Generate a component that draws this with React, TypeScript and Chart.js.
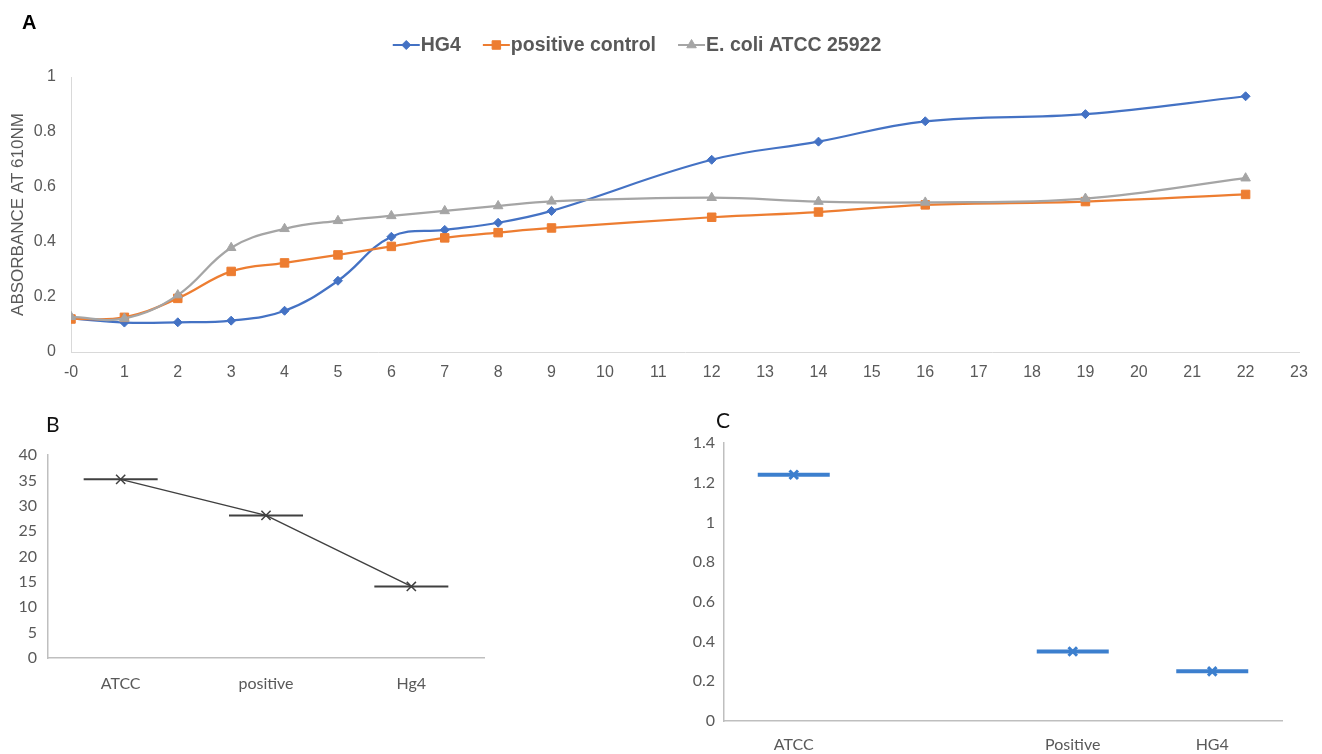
import React, { useEffect, useRef } from 'react';
import { Chart, registerables } from 'chart.js';

Chart.register(...registerables);

// ---------- Panel A data ----------
const timeHours = [0, 1, 2, 3, 4, 5, 6, 7, 8, 9, 12, 14, 16, 19, 22];
const hg4Values = [0.122, 0.107, 0.108, 0.114, 0.15, 0.259, 0.419, 0.444, 0.47, 0.513, 0.699, 0.765, 0.839, 0.865, 0.93];
const positiveControlValues = [0.12, 0.126, 0.195, 0.293, 0.324, 0.353, 0.384, 0.415, 0.434, 0.451, 0.49, 0.509, 0.535, 0.547, 0.573];
const ecoliValues = [0.128, 0.122, 0.207, 0.379, 0.448, 0.477, 0.495, 0.513, 0.531, 0.548, 0.561, 0.547, 0.544, 0.558, 0.632];
const seriesNames = ['HG4', 'positive control', 'E. coli ATCC 25922'];
const yTitleA = 'ABSORBANCE AT 610NM';

// ---------- Panel B data ----------
const panelBCategories = ['ATCC', 'positive', 'Hg4'];
const panelBValues = [35.2, 28.1, 14.1];

// ---------- Panel C data ----------
const panelCCategories = ['ATCC', '', 'Positive', 'HG4'];
const panelCValues: (number | null)[] = [1.24, null, 0.35, 0.25];

const FONT_A = '"Liberation Sans", Arial, sans-serif';
const FONT_BC = 'Lato, "Open Sans", sans-serif';
const TEXT_GRAY = '#595959';

const fmt = (v: any) => String(parseFloat(Number(v).toFixed(2)));

function drawMarker(ctx: CanvasRenderingContext2D, style: string, x: number, y: number, r: number, color: string) {
  ctx.save();
  ctx.fillStyle = color;
  ctx.strokeStyle = color;
  ctx.lineWidth = 1;
  ctx.beginPath();
  if (style === 'rectRot') {
    ctx.moveTo(x, y - r);
    ctx.lineTo(x + r, y);
    ctx.lineTo(x, y + r);
    ctx.lineTo(x - r, y);
    ctx.closePath();
  } else if (style === 'rect') {
    const h = r * Math.SQRT1_2;
    ctx.rect(x - h, y - h, 2 * h, 2 * h);
  } else if (style === 'triangle') {
    let a = 0;
    ctx.moveTo(x + Math.sin(a) * r, y - Math.cos(a) * r);
    a += (2 * Math.PI) / 3;
    ctx.lineTo(x + Math.sin(a) * r, y - Math.cos(a) * r);
    a += (2 * Math.PI) / 3;
    ctx.lineTo(x + Math.sin(a) * r, y - Math.cos(a) * r);
    ctx.closePath();
  }
  ctx.fill();
  ctx.stroke();
  ctx.restore();
}

const legendPluginA = {
  id: 'excelLegend',
  afterDraw(chart: any) {
    const ctx: CanvasRenderingContext2D = chart.ctx;
    const centerX = 637;
    const centerY = 45;
    const lineLen = 27;
    const textGap = 1;
    const itemGap = 22;
    ctx.save();
    ctx.font = `bold 19.5px ${FONT_A}`;
    ctx.textBaseline = 'middle';
    const items = chart.data.datasets.map((ds: any) => ({
      text: ds.label as string,
      color: ds.borderColor as string,
      style: ds.pointStyle as string,
      r: ds.pointRadius as number,
    }));
    const widths = items.map((it: any) => lineLen + textGap + ctx.measureText(it.text).width);
    const total = widths.reduce((a: number, b: number) => a + b, 0) + itemGap * (items.length - 1);
    let x = centerX - total / 2;
    items.forEach((it: any, i: number) => {
      ctx.strokeStyle = it.color;
      ctx.lineWidth = 2;
      ctx.beginPath();
      ctx.moveTo(x, centerY);
      ctx.lineTo(x + lineLen, centerY);
      ctx.stroke();
      drawMarker(ctx, it.style, x + lineLen / 2, centerY, it.r, it.color);
      ctx.fillStyle = TEXT_GRAY;
      ctx.fillText(it.text, x + lineLen + textGap, centerY + 1);
      x += widths[i] + itemGap;
    });
    ctx.restore();
  },
};

export default function App() {
  const refA = useRef<HTMLCanvasElement>(null);
  const refB = useRef<HTMLCanvasElement>(null);
  const refC = useRef<HTMLCanvasElement>(null);

  useEffect(() => {
    const charts: Chart[] = [];

    // ---------- Panel A ----------
    const toXY = (vals: number[]) => timeHours.map((t, i) => ({ x: t, y: vals[i] }));
    const seriesA = [
      { values: hg4Values, color: '#4472C4', style: 'rectRot', r: 4.5, order: 2 },
      { values: positiveControlValues, color: '#ED7D31', style: 'rect', r: 6, order: 1 },
      { values: ecoliValues, color: '#A5A5A5', style: 'triangle', r: 5.5, order: 0 },
    ];
    charts.push(
      new Chart(refA.current!, {
        type: 'line',
        data: {
          datasets: seriesA.map((s, i) => ({
            label: seriesNames[i],
            data: toXY(s.values),
            borderColor: s.color,
            backgroundColor: s.color,
            borderWidth: 2.25,
            pointStyle: s.style,
            pointRadius: s.r,
            pointBorderWidth: 1,
            pointBackgroundColor: s.color,
            pointBorderColor: s.color,
            tension: 0.4,
            order: s.order,
          })) as any,
        },
        options: {
          responsive: false,
          animation: false,
          devicePixelRatio: 1,
          layout: { autoPadding: false, padding: { top: 77, right: 23, left: 0, bottom: 0 } },
          plugins: { legend: { display: false }, tooltip: { enabled: false } },
          scales: {
            x: {
              type: 'linear',
              min: 0,
              max: 23,
              grid: { display: false, drawTicks: false },
              border: { display: true, color: '#d9d9d9', width: 1 },
              ticks: {
                stepSize: 1,
                autoSkip: false,
                maxRotation: 0,
                padding: 11,
                color: TEXT_GRAY,
                font: { family: FONT_A, size: 16 },
                callback: (v: any) => (v === 0 ? '-0' : String(v)),
              },
              afterFit: (scale: any) => {
                scale.height = 48;
              },
            },
            y: {
              min: 0,
              max: 1,
              grid: { display: false, drawTicks: false },
              border: { display: true, color: '#d9d9d9', width: 1 },
              ticks: { stepSize: 0.2, padding: 15, color: TEXT_GRAY, font: { family: FONT_A, size: 16 }, callback: fmt },
              title: {
                display: true,
                text: yTitleA,
                color: TEXT_GRAY,
                font: { family: FONT_A, size: 17 },
                padding: { top: 8, bottom: 0 },
              },
              afterFit: (scale: any) => {
                scale.width = 71;
              },
            },
          },
        } as any,
        plugins: [legendPluginA],
      })
    );

    // ---------- Panel B ----------
    const darkGray = '#404040';
    charts.push(
      new Chart(refB.current!, {
        type: 'line',
        data: {
          labels: panelBCategories,
          datasets: [
            {
              label: 'values',
              data: panelBValues,
              borderColor: darkGray,
              borderWidth: 1.5,
              pointStyle: 'crossRot',
              pointRadius: 6.5,
              pointBorderWidth: 1.5,
              pointBorderColor: darkGray,
              tension: 0,
            },
            {
              label: 'range',
              data: panelBValues,
              showLine: false,
              pointStyle: 'line',
              pointRadius: 37,
              pointBorderWidth: 2,
              pointBorderColor: darkGray,
            },
          ] as any,
        },
        options: {
          responsive: false,
          animation: false,
          devicePixelRatio: 1,
          layout: { autoPadding: false, padding: { top: 55, right: 16, left: 0, bottom: 0 } },
          plugins: { legend: { display: false }, tooltip: { enabled: false } },
          scales: {
            x: {
              type: 'category',
              offset: true,
              grid: { display: false, drawTicks: false },
              border: { display: true, color: '#bfbfbf', width: 1.5 },
              ticks: { padding: 16, color: TEXT_GRAY, font: { family: FONT_BC, size: 16 } },
              afterFit: (scale: any) => {
                scale.height = 96;
              },
            },
            y: {
              min: 0,
              max: 40,
              grid: { display: false, drawTicks: false },
              border: { display: true, color: '#bfbfbf', width: 1.5 },
              ticks: { stepSize: 5, padding: 11, color: TEXT_GRAY, font: { family: FONT_BC, size: 16 }, callback: fmt },
              afterFit: (scale: any) => {
                scale.width = 48;
              },
            },
          },
        } as any,
      })
    );

    // ---------- Panel C ----------
    const blue = '#3c7fce';
    charts.push(
      new Chart(refC.current!, {
        type: 'line',
        data: {
          labels: panelCCategories,
          datasets: [
            {
              label: 'mean',
              data: panelCValues,
              showLine: false,
              pointStyle: 'crossRot',
              pointRadius: 6,
              pointBorderWidth: 3,
              pointBorderColor: blue,
            },
            {
              label: 'range',
              data: panelCValues,
              showLine: false,
              pointStyle: 'line',
              pointRadius: 36,
              pointBorderWidth: 4,
              pointBorderColor: blue,
            },
          ] as any,
        },
        options: {
          responsive: false,
          animation: false,
          devicePixelRatio: 1,
          layout: { autoPadding: false, padding: { top: 43, right: 40, left: 0, bottom: 0 } },
          plugins: { legend: { display: false }, tooltip: { enabled: false } },
          scales: {
            x: {
              type: 'category',
              offset: true,
              grid: { display: false, drawTicks: false },
              border: { display: true, color: '#bfbfbf', width: 1.5 },
              ticks: { padding: 14, color: TEXT_GRAY, font: { family: FONT_BC, size: 16 } },
              afterFit: (scale: any) => {
                scale.height = 33;
              },
            },
            y: {
              min: 0,
              max: 1.4,
              grid: { display: false, drawTicks: false },
              border: { display: true, color: '#bfbfbf', width: 1.5 },
              ticks: { stepSize: 0.2, padding: 9, color: TEXT_GRAY, font: { family: FONT_BC, size: 16 }, callback: fmt },
              afterFit: (scale: any) => {
                scale.width = 44;
              },
            },
          },
        } as any,
      })
    );

    return () => charts.forEach((c) => c.destroy());
  }, []);

  const letterBC: React.CSSProperties = {
    position: 'absolute',
    font: `21px ${FONT_BC}`,
    lineHeight: '21px',
    color: '#111',
  };

  return (
    <div style={{ position: 'fixed', left: 0, top: 0, width: 1322, height: 754, background: '#fff', overflow: 'hidden' }}>
      <canvas ref={refA} width={1322} height={400} style={{ position: 'absolute', left: 0, top: 0 }} />
      <canvas ref={refB} width={500} height={354} style={{ position: 'absolute', left: 0, top: 400 }} />
      <canvas ref={refC} width={642} height={354} style={{ position: 'absolute', left: 680, top: 400 }} />
      <div style={{ position: 'absolute', left: 22, top: 12, font: `bold 20px ${FONT_A}`, lineHeight: '20px', color: '#000' }}>A</div>
      <div style={{ ...letterBC, left: 46, top: 413 }}>B</div>
      <div style={{ ...letterBC, left: 716, top: 409 }}>C</div>
    </div>
  );
}
